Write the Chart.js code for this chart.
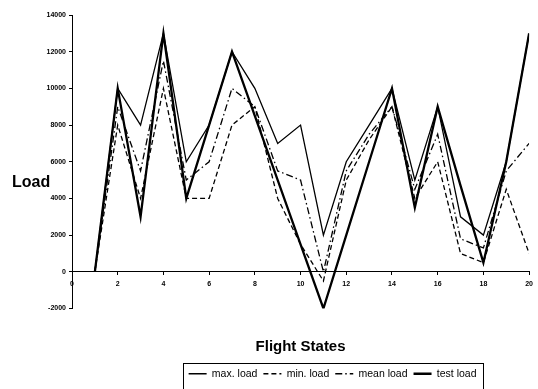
<!DOCTYPE html>
<html>
<head>
<meta charset="utf-8">
<script src="https://cdn.jsdelivr.net/npm/chart.js@4.4.1/dist/chart.umd.min.js"></script>
<style>
  html, body { margin: 0; padding: 0; background: #fff; }
  #wrap { width: 538px; height: 389px; }
</style>
</head>
<body>
<div id="wrap"><canvas id="myChart"></canvas></div>
<script>
// flight states 1..20
var states = [1, 2, 3, 4, 5, 6, 7, 8, 9, 10, 11, 12, 13, 14, 15, 16, 17, 18, 19, 20]
var maxLoad = [0, 10000, 8000, 13000, 6000, 8000, 12000, 10000, 7000, 8000, 2000, 6000, 8000, 10000, 5000, 9000, 3000, 2000, 6000, 13000]
var minLoad = [0, 8000, 4000, 10000, 4000, 4000, 8000, 9000, 4000, 1500, -500, 5000, 7200, 9000, 4000, 6000, 1000, 500, 4500, 1000]
var meanLoad = [0, 9000, 5500, 11500, 5000, 6000, 10000, 9000, 5500, 5000, 0, 5500, 7500, 9000, 4500, 7500, 1800, 1300, 5500, 7000]
var testLoad = [0, 10000, 3000, 13000, 4000, 8000, 12000, 8500, 5000, 1500, -2000, 2000, 6000, 10000, 3500, 9000, 4700, 500, 6000, 13000]
var seriesNames = ["max. load", "min. load", "mean load", "test load"]

function main() {
  Chart.defaults.font.family = "'Liberation Sans', Arial, sans-serif"
  Chart.defaults.color = "#000"
  writeChart()
}

function toPoints(values) {
  return states.map(function(s, i) { return { x: s, y: values[i] } })
}

// legend is moved a bit to the right and framed, y title drawn horizontally
var legendFrame = {
  id: "legendFrame",
  afterLayout: function(chart) {
    var lg = chart.legend
    var area = chart.chartArea
    var pad = lg.options.labels.padding
    var w = lg.lineWidths[0] + pad
    var cx = area.left + (area.right - area.left) * 0.57
    lg.left = cx - w / 2
    lg.right = cx + w / 2
    lg.width = w
  },
  afterDraw: function(chart) {
    var ctx = chart.ctx
    var lg = chart.legend
    var area = chart.chartArea
    ctx.save()
    ctx.strokeStyle = "#000"
    ctx.lineWidth = 1
    ctx.strokeRect(Math.round(lg.left) + 0.5, Math.round(lg.top) + 0.5, Math.round(lg.width), Math.round(lg.height))
    ctx.fillStyle = "#000"
    ctx.font = "bold 16px 'Liberation Sans', Arial, sans-serif"
    ctx.textBaseline = "middle"
    ctx.fillText("Load", 12, area.top + (area.bottom - area.top) * 0.57)
    ctx.restore()
  }
}

function writeChart() {
  var ctx = document.getElementById("myChart")
  var styles = [
    { borderWidth: 1.3, borderDash: [] },
    { borderWidth: 1.3, borderDash: [5, 3] },
    { borderWidth: 1.3, borderDash: [7, 3, 1.5, 3] },
    { borderWidth: 2.3, borderDash: [] },
  ]
  var values = [maxLoad, minLoad, meanLoad, testLoad]
  var datasets = values.map(function(v, i) {
    return {
      label: seriesNames[i],
      data: toPoints(v),
      borderColor: "#000",
      backgroundColor: "#000",
      borderWidth: styles[i].borderWidth,
      borderDash: styles[i].borderDash,
      fill: false,
      lineTension: 0,
      pointRadius: 0,
    }
  })

  new Chart(ctx, {
    type: "line",
    data: { datasets: datasets },
    options: {
      responsive: true,
      maintainAspectRatio: false,
      animation: false,
      layout: { padding: { top: 15, right: 1, left: 0, bottom: 0 } },
      scales: {
        x: {
          type: "linear",
          position: { y: 0 },
          min: 0,
          max: 20,
          ticks: { stepSize: 2, maxRotation: 0, padding: 5, font: { size: 7, weight: "bold" } },
          grid: { drawOnChartArea: false, tickLength: 3, color: "#000" },
          border: { color: "#000", width: 1 },
        },
        y: {
          min: -2000,
          max: 14000,
          ticks: { stepSize: 2000, padding: 3, format: { useGrouping: false }, font: { size: 7, weight: "bold" } },
          grid: { drawOnChartArea: false, tickLength: 3, color: "#000" },
          border: { color: "#000", width: 1 },
          afterFit: function(scale) { scale.width = 72 },
        },
      },
      plugins: {
        legend: {
          position: "bottom",
          fullSize: false,
          weight: 1000,
          labels: {
            usePointStyle: true,
            pointStyle: "line",
            pointStyleWidth: 18,
            padding: 6,
            font: { size: 10.5 },
            generateLabels: function(chart) {
              // point style legend takes the point's style, so copy the line dash back
              var items = Chart.defaults.plugins.legend.labels.generateLabels(chart)
              items.forEach(function(item) {
                var ds = chart.data.datasets[item.datasetIndex]
                item.lineDash = ds.borderDash
                item.lineWidth = ds.borderWidth
                item.pointStyle = "line"
              })
              return items
            },
          },
        },
        title: {
          display: true,
          text: "Flight States",
          position: "bottom",
          fullSize: false,
          weight: 500,
          font: { size: 15, weight: "bold" },
          padding: { top: 29, bottom: 7 },
        },
        tooltip: { enabled: false },
      },
    },
    plugins: [legendFrame],
  })
}

main()
</script>
</body>
</html>
